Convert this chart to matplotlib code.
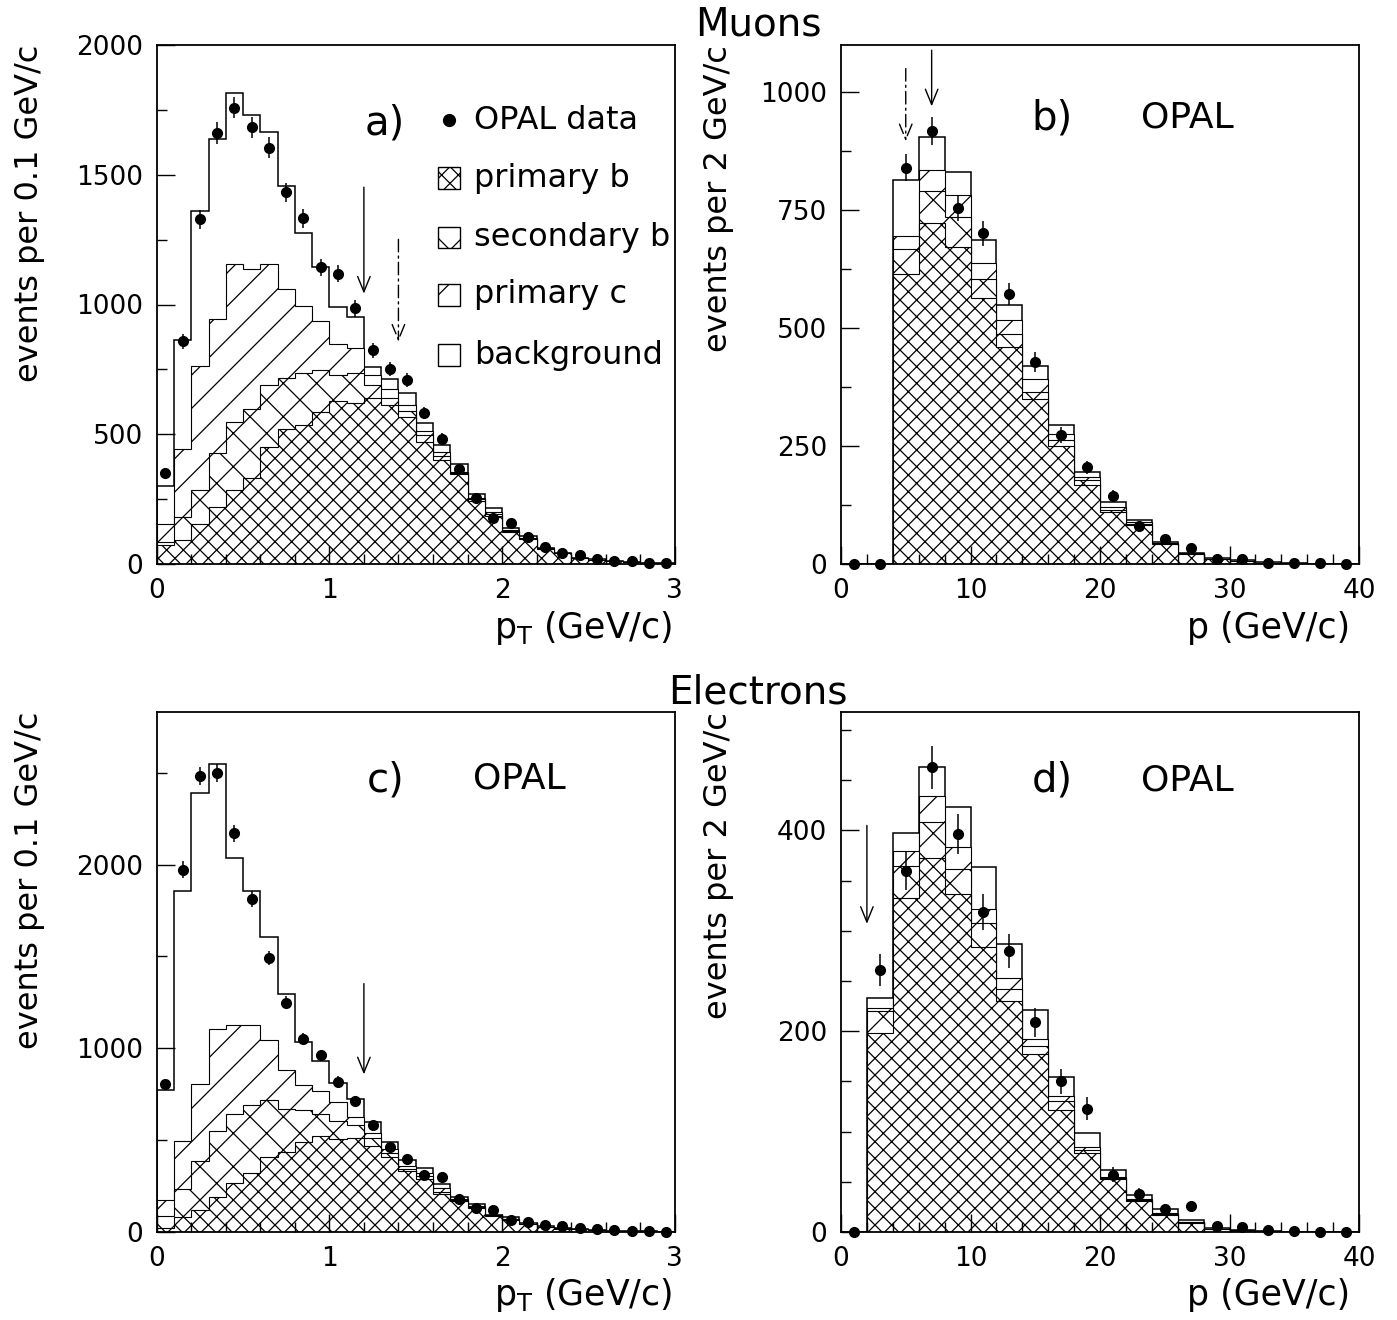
import numpy as np
import matplotlib
matplotlib.use('Agg')
import matplotlib.pyplot as plt
from matplotlib.patches import Rectangle
from matplotlib.ticker import MultipleLocator

plt.rcParams['font.family'] = ['DejaVu Sans']
plt.rcParams['hatch.linewidth'] = 0.9

# bin edges
pt_edges = np.linspace(0, 3, 31)   # pT, 0.1 GeV/c bins
p_edges = np.linspace(0, 40, 21)   # p, 2 GeV/c bins

# ---- a) muons, pT
a_data = [350, 858, 1328, 1661, 1759, 1683, 1605, 1432, 1332, 1143, 1119, 985, 823, 750, 708,
          582, 481, 366, 254, 178, 158, 104, 66, 43, 35, 19, 12, 12, 4, 2]
a_total = [299, 862, 1361, 1637, 1816, 1732, 1664, 1458, 1276, 1146, 990, 950, 758, 712, 660,
           543, 459, 385, 271, 215, 140, 107, 63, 44, 25, 18, 12, 8, 5, 3]
a_pc = [154, 443, 762, 944, 1156, 1135, 1156, 1061, 996, 937, 846, 833, 730, 675, 611,
        512, 431, 354, 255, 199, 130, 100, 60, 42, 24, 17, 11, 7, 4, 2]
a_sb = [85, 182, 286, 427, 547, 596, 690, 716, 736, 749, 729, 736, 690, 640, 590,
        499, 418, 350, 250, 192, 127, 98, 59, 41, 23, 16, 10, 6, 4, 2]
a_pb = [72, 94, 156, 219, 286, 332, 449, 521, 536, 586, 628, 620, 640, 612, 566,
        470, 399, 345, 244, 186, 125, 96, 58, 41, 23, 16, 10, 6, 4, 2]

# ---- b) muons, p
b_data = [0, 0, 840, 918, 754, 701, 572, 428, 273, 205, 144, 80, 54, 33, 10, 10, 3, 3, 2, 0]
b_total = [0, 0, 814, 904, 830, 687, 550, 419, 295, 196, 132, 93, 47, 24, 12, 8, 4, 2, 1, 1]
b_pc = [0, 0, 695, 835, 783, 639, 517, 392, 275, 185, 121, 88, 45, 23, 11, 7, 3, 2, 1, 1]
b_sb = [0, 0, 667, 790, 735, 603, 487, 365, 263, 178, 114, 85, 44, 22, 10, 7, 3, 2, 1, 1]
b_pb = [0, 0, 615, 723, 672, 564, 460, 349, 250, 167, 110, 82, 43, 21, 10, 6, 3, 2, 1, 1]

# ---- c) electrons, pT
c_data = [803, 1972, 2481, 2498, 2171, 1814, 1491, 1248, 1053, 962, 818, 712, 581, 464, 400,
          310, 299, 177, 128, 122, 67, 53, 40, 31, 22, 16, 13, 7, 7, 0]
c_total = [771, 1855, 2387, 2547, 2034, 1855, 1607, 1297, 1034, 930, 812, 722, 601, 492, 390,
           350, 259, 193, 153, 95, 80, 49, 31, 22, 16, 13, 7, 5, 4, 2]
c_pc = [173, 496, 808, 1103, 1128, 1128, 1047, 883, 799, 765, 709, 624, 540, 450, 360,
        322, 240, 182, 140, 92, 72, 46, 29, 20, 15, 12, 6, 4, 3, 2]
c_sb = [85, 233, 389, 549, 643, 690, 718, 671, 662, 643, 605, 580, 510, 430, 345,
        305, 220, 176, 135, 90, 70, 45, 28, 20, 14, 11, 6, 4, 3, 2]
c_pb = [23, 80, 122, 190, 267, 323, 408, 436, 492, 522, 506, 511, 470, 410, 330,
        291, 209, 171, 131, 89, 67, 44, 27, 19, 14, 11, 6, 4, 3, 2]

# ---- d) electrons, p
d_data = [0, 261, 360, 463, 396, 319, 280, 209, 150, 123, 57, 38, 23, 26, 6, 5, 2, 1, 0, 0]
d_total = [0, 233, 397, 463, 423, 364, 287, 221, 154, 99, 62, 37, 23, 12, 4, 2, 1, 0, 0, 0]
d_pc = [0, 223, 380, 434, 384, 322, 253, 192, 135, 85, 55, 33, 19, 10, 3, 1.5, 1, 0, 0, 0]
d_sb = [0, 220, 365, 408, 362, 308, 242, 185, 130, 82, 54, 32, 18, 9.5, 3, 1.5, 1, 0, 0, 0]
d_pb = [0, 198, 333, 373, 337, 284, 230, 177, 122, 79, 53, 31, 17, 9, 3, 1, 0.5, 0, 0, 0]


def draw_panel(ax, edges, total, pc, sb, pb, data):
    kw = dict(fill=True, facecolor='white', edgecolor='black', baseline=0)
    ax.stairs(total, edges, lw=1.1, **kw)
    ax.stairs(pc, edges, hatch='/', lw=0.8, **kw)
    ax.stairs(sb, edges, hatch='x', lw=0.8, **kw)
    ax.stairs(pb, edges, hatch='xx', lw=0.8, **kw)
    centers = 0.5 * (edges[1:] + edges[:-1])
    data = np.asarray(data, dtype=float)
    ax.errorbar(centers, data, yerr=np.sqrt(data), fmt='o', color='black', ms=7,
                elinewidth=1.1, capsize=0, clip_on=False, zorder=5)


def style_axes(ax, xmaj, xmin, ymaj, ymin):
    ax.xaxis.set_major_locator(MultipleLocator(xmaj))
    ax.xaxis.set_minor_locator(MultipleLocator(xmin))
    ax.yaxis.set_major_locator(MultipleLocator(ymaj))
    ax.yaxis.set_minor_locator(MultipleLocator(ymin))
    ax.tick_params(which='both', direction='in', top=False, right=False, width=1)
    ax.tick_params(which='major', length=13, labelsize=19, pad=10)
    ax.tick_params(which='minor', length=7)
    for s in ax.spines.values():
        s.set_linewidth(1.3)


def arrow(ax, x, y0, y1, ls='-'):
    ax.annotate('', xy=(x, y1), xytext=(x, y0),
                arrowprops=dict(arrowstyle='->,head_length=1.1,head_width=0.45',
                                color='black', lw=1, linestyle=ls, shrinkA=0, shrinkB=0))


fig = plt.figure(figsize=(13.97, 13.2), dpi=100)
W, H = 1397.0, 1320.0
axw, axh = 518 / W, 519 / H
ax_a = fig.add_axes([156.7 / W, 1 - 564 / H, axw, axh])
ax_b = fig.add_axes([841 / W, 1 - 564 / H, axw, axh])
ax_c = fig.add_axes([156.7 / W, 1 - 1232 / H, axw, 520 / H])
ax_d = fig.add_axes([841 / W, 1 - 1232 / H, axw, 520 / H])

draw_panel(ax_a, pt_edges, a_total, a_pc, a_sb, a_pb, a_data)
draw_panel(ax_b, p_edges, b_total, b_pc, b_sb, b_pb, b_data)
draw_panel(ax_c, pt_edges, c_total, c_pc, c_sb, c_pb, c_data)
draw_panel(ax_d, p_edges, d_total, d_pc, d_sb, d_pb, d_data)

ax_a.set_xlim(0, 3); ax_a.set_ylim(0, 2000)
ax_b.set_xlim(0, 40); ax_b.set_ylim(0, 1100)
ax_c.set_xlim(0, 3); ax_c.set_ylim(0, 2830)
ax_d.set_xlim(0, 40); ax_d.set_ylim(0, 518)

style_axes(ax_a, 1, 0.2, 500, 250)
style_axes(ax_b, 10, 2, 250, 125)
style_axes(ax_c, 1, 0.2, 1000, 500)
style_axes(ax_d, 10, 2, 200, 50)

# cut arrows
dashdot = (0, (9, 3, 1.5, 3))
arrow(ax_a, 1.2, 1452, 1042)
arrow(ax_a, 1.4, 1251, 857, ls=dashdot)
arrow(ax_b, 7, 1089, 970)
arrow(ax_b, 5, 1050, 896, ls=dashdot)
arrow(ax_c, 1.2, 1352, 858)
arrow(ax_d, 2, 405, 307)

# panel labels
for ax, lab, ylab in [(ax_a, 'a)', 0.849), (ax_b, 'b)', 0.859), (ax_c, 'c)', 0.869), (ax_d, 'd)', 0.869)]:
    xl = 0.441 if ax in (ax_a, ax_c) else 0.407
    ax.text(xl, ylab, lab, transform=ax.transAxes, fontsize=29, ha='center', va='center')
ax_b.text(0.668, 0.861, 'OPAL', transform=ax_b.transAxes, fontsize=26, ha='center', va='center')
ax_c.text(0.70, 0.873, 'OPAL', transform=ax_c.transAxes, fontsize=26, ha='center', va='center')
ax_d.text(0.668, 0.869, 'OPAL', transform=ax_d.transAxes, fontsize=26, ha='center', va='center')

# legend in panel a
leg_y = [0.855, 0.743, 0.629, 0.519, 0.402]
leg_txt = ['OPAL data', 'primary b', 'secondary b', 'primary c', 'background']
leg_hatch = [None, 'xx', 'x', '/', '']
for y, t, h in zip(leg_y, leg_txt, leg_hatch):
    if h is None:
        ax_a.plot([0.564], [y], 'o', color='black', ms=8.5, transform=ax_a.transAxes)
    else:
        ax_a.add_patch(Rectangle((0.543, y - 0.021), 0.042, 0.042, transform=ax_a.transAxes,
                                 facecolor='white', edgecolor='black', hatch=h, lw=1))
    ax_a.text(0.612, y, t, transform=ax_a.transAxes, fontsize=23, ha='left', va='center')

# axis titles
fig.text(30 / W, 1 - 45 / H, 'events per 0.1 GeV/c', rotation=90, ha='center', va='top', fontsize=23)
fig.text(718 / W, 1 - 45 / H, 'events per 2 GeV/c', rotation=90, ha='center', va='top', fontsize=23)
fig.text(30 / W, 1 - 712 / H, 'events per 0.1 GeV/c', rotation=90, ha='center', va='top', fontsize=23)
fig.text(718 / W, 1 - 712 / H, 'events per 2 GeV/c', rotation=90, ha='center', va='top', fontsize=23)

fig.text(672 / W, 1 - 628 / H, r'p$_\mathrm{T}$ (GeV/c)', ha='right', va='center', fontsize=25)
fig.text(1350 / W, 1 - 628 / H, 'p (GeV/c)', ha='right', va='center', fontsize=25)
fig.text(672 / W, 1 - 1295 / H, r'p$_\mathrm{T}$ (GeV/c)', ha='right', va='center', fontsize=25)
fig.text(1350 / W, 1 - 1295 / H, 'p (GeV/c)', ha='right', va='center', fontsize=25)

fig.text(758 / W, 1 - 25 / H, 'Muons', ha='center', va='center', fontsize=28)
fig.text(758 / W, 1 - 692 / H, 'Electrons', ha='center', va='center', fontsize=28)

fig.savefig('out.png', dpi=100, facecolor='white')
